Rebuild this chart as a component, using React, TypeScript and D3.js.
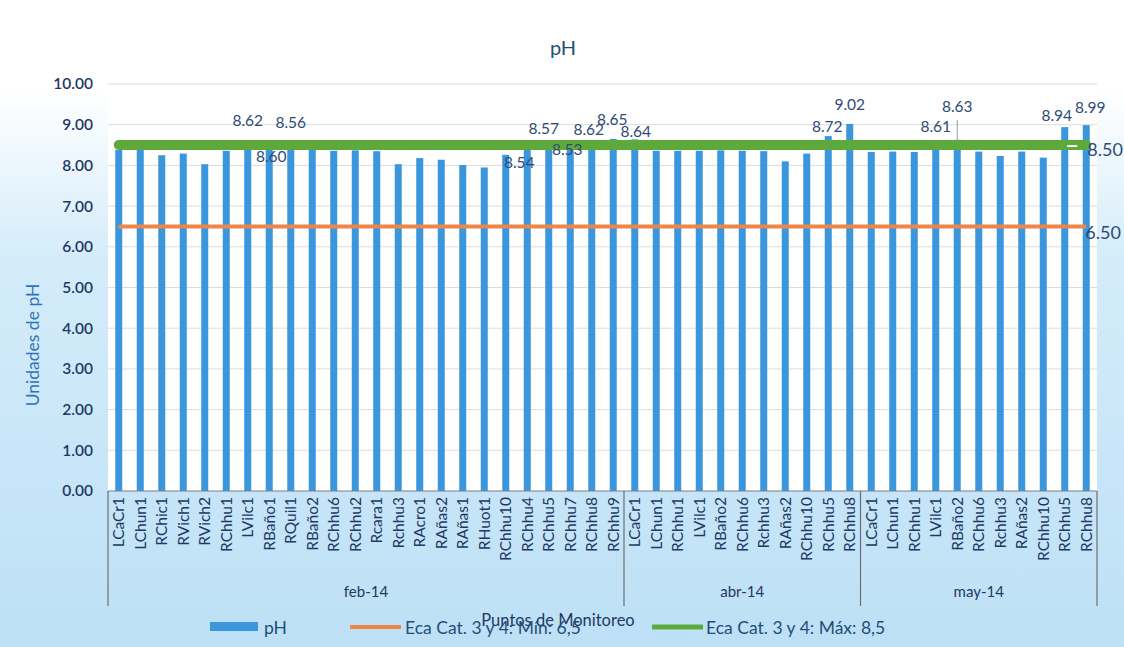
import { useEffect, useRef } from 'react';
import * as d3 from 'd3';

const months = ['feb-14', 'abr-14', 'may-14'];

const febPoints = ['LCaCr1', 'LChun1', 'RChic1', 'RVich1', 'RVich2', 'RChhu1', 'LVilc1', 'RBaño1', 'RQuil1', 'RBaño2', 'RChhu6', 'RChhu2', 'Rcara1', 'Rchhu3', 'RAcro1', 'RAñas2', 'RAñas1', 'RHuot1', 'RChhu10', 'RChhu4', 'RChhu5', 'RChhu7', 'RChhu8', 'RChhu9'];
const febPH = [8.38, 8.38, 8.25, 8.29, 8.03, 8.36, 8.62, 8.6, 8.56, 8.38, 8.36, 8.37, 8.35, 8.03, 8.18, 8.14, 8.01, 7.95, 8.26, 8.54, 8.57, 8.53, 8.62, 8.65];

const abrPoints = ['LCaCr1', 'LChun1', 'RChhu1', 'LVilc1', 'RBaño2', 'RChhu6', 'Rchhu3', 'RAñas2', 'RChhu10', 'RChhu5', 'RChhu8'];
const abrPH = [8.64, 8.36, 8.36, 8.36, 8.37, 8.36, 8.35, 8.1, 8.29, 8.72, 9.02];

const mayPoints = ['LCaCr1', 'LChun1', 'RChhu1', 'LVilc1', 'RBaño2', 'RChhu6', 'Rchhu3', 'RAñas2', 'RChhu10', 'RChhu5', 'RChhu8'];
const mayPH = [8.33, 8.34, 8.33, 8.61, 8.63, 8.34, 8.23, 8.34, 8.19, 8.94, 8.99];

const ecaMin = 6.5;
const ecaMax = 8.5;
const yTicks = [0, 1, 2, 3, 4, 5, 6, 7, 8, 9, 10];

// label nudges (dx, dy of label centre from bar top), keyed by row index
const labelNudge: Record<number, [number, number]> = {
  6: [0, -20], 7: [2, 16], 8: [0, -20], 19: [-8, 19], 20: [-5, -14], 21: [-3, 6],
  22: [-3, -11], 23: [-1, -19], 24: [1, -8], 33: [-1, -10], 34: [0, -19],
  38: [0, -14], 39: [0, -33], 44: [-8, -12], 45: [4, -18],
};

const FONT = 'Lato, "Open Sans", sans-serif';
const NAVY = '#1f3864';
const BAR = '#3a97de';
const ORANGE = '#ee8646';
const GREEN = '#5ea93c';

export default function App() {
  const svgRef = useRef<SVGSVGElement>(null);

  useEffect(() => {
    if (!svgRef.current) return;
    const W = 1124;
    const H = 647;
    const left = 108, right = 1097, top = 84, bottom = 491;

    const groups = [
      { month: months[0], points: febPoints, ph: febPH },
      { month: months[1], points: abrPoints, ph: abrPH },
      { month: months[2], points: mayPoints, ph: mayPH },
    ];
    const rows = groups.flatMap((g) =>
      g.points.map((p, i) => ({ month: g.month, point: p, ph: g.ph[i] }))
    ).map((r, i) => ({ ...r, key: String(i), idx: i }));

    const svg = d3.select(svgRef.current);
    svg.selectAll('*').remove();
    svg.attr('width', W).attr('height', H);

    const defs = svg.append('defs');
    const grad = defs.append('linearGradient').attr('id', 'bg').attr('x1', 0).attr('y1', 0).attr('x2', 0).attr('y2', 1);
    grad.append('stop').attr('offset', '0%').attr('stop-color', '#ffffff');
    grad.append('stop').attr('offset', '14%').attr('stop-color', '#ffffff');
    grad.append('stop').attr('offset', '40%').attr('stop-color', '#d4ecfa');
    grad.append('stop').attr('offset', '100%').attr('stop-color', '#bde0f6');
    svg.append('rect').attr('width', W).attr('height', H).attr('fill', 'url(#bg)');
    svg.append('rect').attr('x', left).attr('y', 62).attr('width', right - left).attr('height', bottom - 62).attr('fill', '#ffffff');

    const x = d3.scaleBand<string>().domain(rows.map((r) => r.key)).range([left, right]).padding(0);
    const y = d3.scaleLinear().domain([0, 10]).range([bottom, top]);
    const cx = (k: string) => (x(k) ?? 0) + x.bandwidth() / 2;
    const barW = 7;

    // title
    svg.append('text').attr('x', 563).attr('y', 47).attr('text-anchor', 'middle').attr('dominant-baseline', 'central')
      .attr('font-family', FONT).attr('font-size', 20).attr('fill', '#1f4e79').text('pH');

    // grid + y labels
    const gy = svg.append('g');
    yTicks.forEach((t) => {
      if (t > 0) {
        gy.append('line').attr('x1', left).attr('x2', right).attr('y1', y(t)).attr('y2', y(t))
          .attr('stroke', '#dcdcdc').attr('stroke-width', 1);
      }
      gy.append('text').attr('x', 93).attr('y', y(t)).attr('dy', '0.35em').attr('text-anchor', 'end')
        .attr('font-family', FONT).attr('font-size', 15.5).attr('font-weight', 600).attr('fill', NAVY)
        .text(d3.format('.2f')(t));
    });

    svg.append('text').attr('transform', `translate(39,345) rotate(-90)`)
      .attr('text-anchor', 'middle').attr('font-family', FONT).attr('font-size', 17.5).attr('fill', '#2e75b6')
      .text('Unidades de pH');

    // bars
    svg.append('g').selectAll('rect').data(rows).join('rect')
      .attr('x', (d) => cx(d.key) - barW / 2)
      .attr('width', barW)
      .attr('y', (d) => y(d.ph))
      .attr('height', (d) => y(0) - y(d.ph))
      .attr('fill', BAR);

    // reference lines
    const first = cx(rows[0].key);
    const last = cx(rows[rows.length - 1].key);
    const refLine = d3.line<[number, number]>();
    svg.append('path').attr('d', refLine([[first, y(ecaMin)], [last, y(ecaMin)]]))
      .attr('stroke', ORANGE).attr('stroke-width', 4).attr('fill', 'none');
    svg.append('path').attr('d', refLine([[first, y(ecaMax)], [last, y(ecaMax)]]))
      .attr('stroke', GREEN).attr('stroke-width', 10).attr('stroke-linecap', 'round').attr('fill', 'none');
    svg.append('line').attr('x1', last - 19).attr('x2', last - 9).attr('y1', y(ecaMax) + 1).attr('y2', y(ecaMax) + 1)
      .attr('stroke', '#f4f4f4').attr('stroke-width', 2);

    svg.append('text').attr('x', last + 1).attr('y', y(ecaMax) + 5).attr('dy', '0.35em')
      .attr('font-family', FONT).attr('font-size', 18).attr('fill', '#2f4a78').text(d3.format('.2f')(ecaMax));
    svg.append('text').attr('x', last - 1).attr('y', y(ecaMin) + 6).attr('dy', '0.35em')
      .attr('font-family', FONT).attr('font-size', 18).attr('fill', '#2f4a78').text(d3.format('.2f')(ecaMin));

    // data labels (values above ECA max)
    const labelled = rows.filter((r) => r.ph > ecaMax);
    labelled.forEach((r) => {
      const [dx, dy] = labelNudge[r.idx] ?? [0, -12];
      const lx = cx(r.key) + dx;
      const ly = y(r.ph) + dy;
      if (dy < -28) {
        svg.append('line').attr('x1', cx(r.key)).attr('x2', cx(r.key)).attr('y1', ly + 13).attr('y2', y(r.ph) + 2)
          .attr('stroke', '#9a9a9a').attr('stroke-width', 1);
      }
      svg.append('text').attr('x', lx).attr('y', ly).attr('dy', '0.35em').attr('text-anchor', 'middle')
        .attr('font-family', FONT).attr('font-size', 15.5).attr('fill', '#2f4a78')
        .text(d3.format('.2f')(r.ph));
    });

    // category axis
    const ax = svg.append('g');
    ax.append('line').attr('x1', left).attr('x2', right).attr('y1', bottom).attr('y2', bottom)
      .attr('stroke', '#7f7f7f').attr('stroke-width', 1);
    let start = 0;
    const bounds: number[] = [left];
    groups.forEach((g) => {
      const k0 = rows[start].key;
      const k1 = rows[start + g.points.length - 1].key;
      const x0 = x(k0) ?? 0;
      const x1 = (x(k1) ?? 0) + x.bandwidth();
      bounds.push(x1);
      ax.append('text').attr('x', (x0 + x1) / 2).attr('y', 592).attr('dy', '0.35em').attr('text-anchor', 'middle')
        .attr('font-family', FONT).attr('font-size', 15).attr('fill', NAVY).text(g.month);
      start += g.points.length;
    });
    bounds.forEach((b) => {
      ax.append('line').attr('x1', b).attr('x2', b).attr('y1', bottom).attr('y2', 606)
        .attr('stroke', '#6f6f6f').attr('stroke-width', 1.2);
    });
    ax.selectAll('text.cat').data(rows).join('text').attr('class', 'cat')
      .attr('transform', (d) => `translate(${cx(d.key)},${bottom + 6}) rotate(-90)`)
      .attr('dy', '0.35em').attr('text-anchor', 'end')
      .attr('font-family', FONT).attr('font-size', 15.5).attr('fill', NAVY)
      .text((d) => d.point);

    // axis title + legend
    svg.append('text').attr('x', 558).attr('y', 620).attr('dy', '0.35em').attr('text-anchor', 'middle')
      .attr('font-family', FONT).attr('font-size', 16.5).attr('fill', NAVY).text('Puntos de Monitoreo');

    const lg = svg.append('g').attr('font-family', FONT).attr('font-size', 17.5).attr('fill', '#1f4e79');
    lg.append('rect').attr('x', 210).attr('y', 622).attr('width', 48).attr('height', 9).attr('fill', BAR);
    lg.append('text').attr('x', 264).attr('y', 628).attr('dy', '0.35em').text('pH');
    lg.append('line').attr('x1', 350).attr('x2', 401).attr('y1', 627).attr('y2', 627).attr('stroke', ORANGE).attr('stroke-width', 4);
    lg.append('text').attr('x', 405).attr('y', 628).attr('dy', '0.35em').text('Eca Cat. 3 y 4: Mín: 6,5');
    lg.append('line').attr('x1', 652).attr('x2', 703).attr('y1', 627).attr('y2', 627).attr('stroke', GREEN).attr('stroke-width', 5);
    lg.append('text').attr('x', 706).attr('y', 628).attr('dy', '0.35em').text('Eca Cat. 3 y 4: Máx: 8,5');
  }, []);

  return (
    <div style={{ position: 'absolute', left: 0, top: 0 }}>
      <svg ref={svgRef} style={{ display: 'block' }} />
    </div>
  );
}
